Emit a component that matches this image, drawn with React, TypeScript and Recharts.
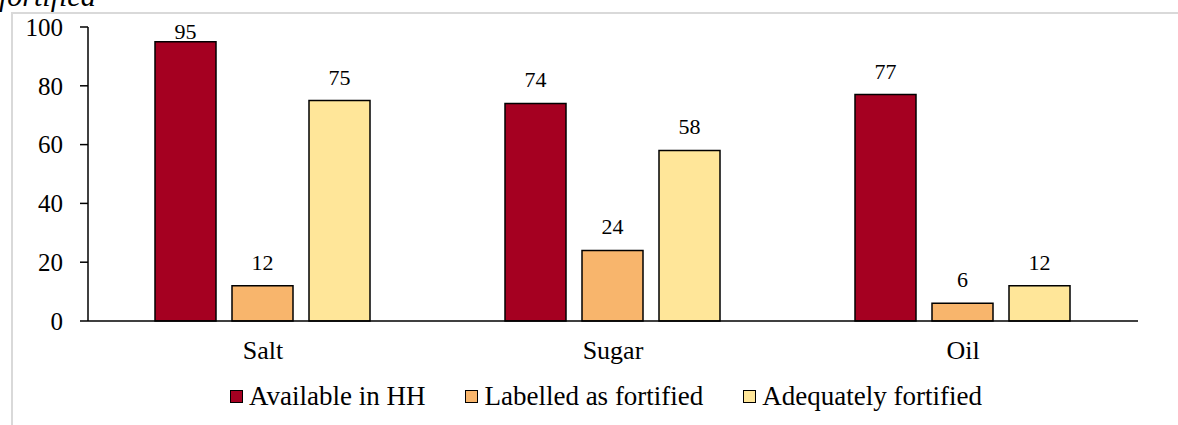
import { BarChart, Bar, XAxis, YAxis, LabelList, Legend } from "recharts";

const categories = ["Salt", "Sugar", "Oil"];
const availableInHH = [95, 74, 77];
const labelledFortified = [12, 24, 6];
const adequatelyFortified = [75, 58, 12];
const yTicks = [0, 20, 40, 60, 80, 100];

const seriesInfo = [
    { key: "available", name: "Available in HH", color: "#A50021" },
    { key: "labelled", name: "Labelled as fortified", color: "#F8B56C" },
    { key: "adequate", name: "Adequately fortified", color: "#FFE699" },
];

const data = categories.map((c, i) => ({
    name: c,
    available: availableInHH[i],
    labelled: labelledFortified[i],
    adequate: adequatelyFortified[i],
}));

const FONT = "'Liberation Serif', 'Times New Roman', serif";

// value label above bar, pushed down when it would leave the top of the plot
const renderLabel = (props: any) => {
    const { x, y, width, value } = props;
    const baseline = Math.max(y - 16, 39);
    return (
        <text
            x={x + width / 2}
            y={baseline}
            textAnchor="middle"
            fontSize={22}
            fontFamily={FONT}
            fill="#000"
        >
            {value}
        </text>
    );
};

const renderLegend = () => (
    <div
        style={{
            display: "flex",
            justifyContent: "center",
            gap: 40,
            fontFamily: FONT,
            fontSize: 27,
            lineHeight: "30px",
            color: "#000",
            paddingLeft: 74,
        }}
    >
        {seriesInfo.map((s) => (
            <div key={s.key} style={{ display: "flex", alignItems: "center" }}>
                <span
                    style={{
                        display: "inline-block",
                        width: 11,
                        height: 11,
                        background: s.color,
                        border: "1.5px solid #000",
                        marginRight: 6,
                    }}
                />
                {s.name}
            </div>
        ))}
    </div>
);

export default function App() {
    return (
        <div
            style={{
                position: "absolute",
                left: 0,
                top: 0,
                width: 1178,
                height: 425,
                overflow: "hidden",
                background: "#fff",
            }}
        >
            {/* frame of the original figure */}
            <div
                style={{
                    position: "absolute",
                    left: 11,
                    top: 12,
                    width: 1200,
                    height: 500,
                    borderLeft: "2px solid #d9d9d9",
                    borderTop: "2px solid #d9d9d9",
                }}
            />

            {/* title cut off at top */}
            <div
                style={{
                    position: "absolute",
                    left: -1,
                    top: -21,
                    fontFamily: FONT,
                    fontStyle: "italic",
                    fontSize: 30,
                    color: "#000",
                    whiteSpace: "nowrap",
                }}
            >
                fortified
            </div>

            <div style={{ position: "absolute", left: 0, top: 0 }}>
                <BarChart
                    width={1178}
                    height={425}
                    data={data}
                    margin={{ top: 27, right: 40, left: 0, bottom: 44 }}
                    barCategoryGap={67}
                    barGap={16}
                >
                    <XAxis
                        dataKey="name"
                        tickLine={false}
                        axisLine={{ stroke: "#000", strokeWidth: 1.5 }}
                        tick={{ fontSize: 26, fontFamily: FONT, fill: "#000" }}
                        tickMargin={14}
                        height={30}
                    />
                    <YAxis
                        domain={[0, 100]}
                        ticks={yTicks}
                        width={88}
                        tickSize={8}
                        tickMargin={17}
                        axisLine={{ stroke: "#000", strokeWidth: 1.5 }}
                        tickLine={{ stroke: "#000", strokeWidth: 1.5 }}
                        tick={{ fontSize: 25, fontFamily: FONT, fill: "#000" }}
                    />
                    <Legend
                        verticalAlign="bottom"
                        content={renderLegend}
                        wrapperStyle={{ bottom: 14, height: 30 }}
                    />
                    {seriesInfo.map((s) => (
                        <Bar
                            key={s.key}
                            dataKey={s.key}
                            name={s.name}
                            fill={s.color}
                            stroke="#000"
                            strokeWidth={1.5}
                            isAnimationActive={false}
                        >
                            <LabelList dataKey={s.key} content={renderLabel} />
                        </Bar>
                    ))}
                </BarChart>
            </div>
        </div>
    );
}
